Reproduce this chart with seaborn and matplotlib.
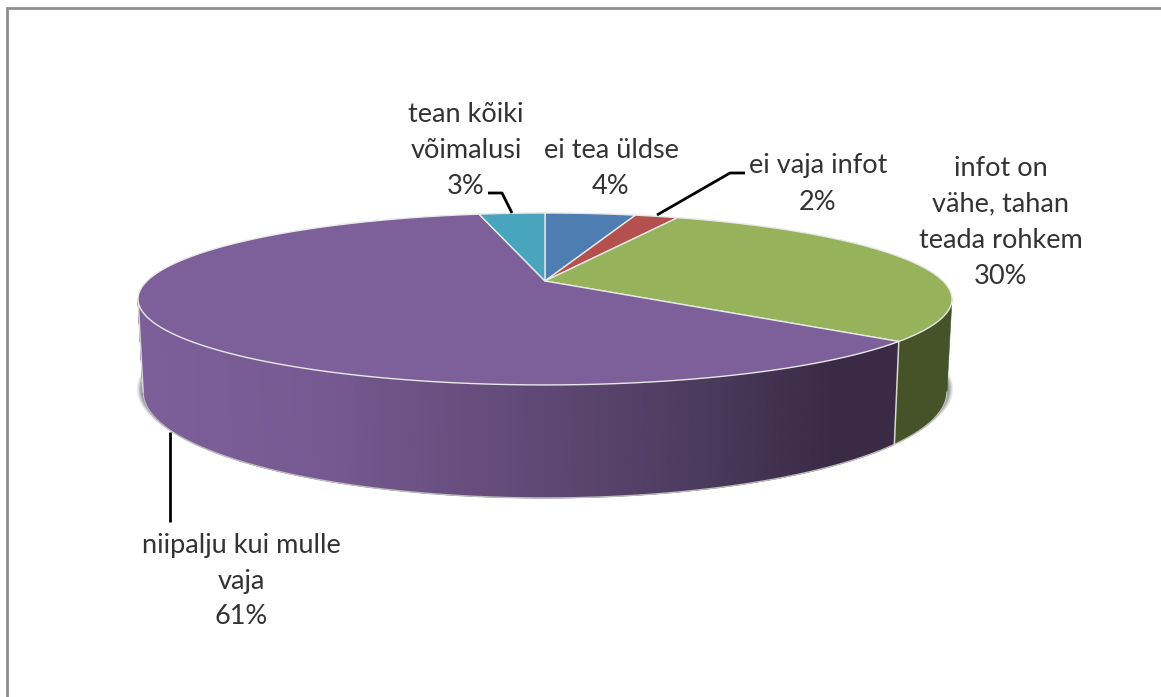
import numpy as np
import matplotlib
matplotlib.use("Agg")
import matplotlib.pyplot as plt
from matplotlib.colors import LinearSegmentedColormap
import seaborn as sns

# --- data (clockwise from 12 o'clock)
names = ["ei tea üldse", "ei vaja infot", "infot on vähe, tahan teada rohkem",
         "niipalju kui mulle vaja", "tean kõiki võimalusi"]
values = [4.4, 2.1, 29.5, 60.8, 3.2]
slice_colors = ["#4e7db2", "#b4504d", "#96b25b", "#7d6099", "#49a5bd"]
label_lines = [["ei tea üldse"], ["ei vaja infot"], ["infot on", "vähe, tahan", "teada rohkem"],
               ["niipalju kui mulle", "vaja"], ["tean kõiki", "võimalusi"]]

sns.set_theme(style="white")
plt.rcParams["font.family"] = ["Lato", "DejaVu Sans"]
palette = sns.color_palette(slice_colors)

# --- view geometry (pixel-like axes units)
W, H = 1161, 697
CX = 545
K = 0.209
TOP = dict(b=398.0, a=82.2, cy=281.0)
BOT = dict(b=393.0, a=101.3, cy=369.9)
TEXT = "#333333"
SEAM = "#d8d8d8"

fig = plt.figure(figsize=(W / 100, H / 100), dpi=100, facecolor="white")
ax = fig.add_axes([0, 0, 1, 1])
ax.set_xlim(0, W)
ax.set_ylim(H, 0)
ax.axis("off")


def project(theta, plane, scale=1.0):
    """Perspective projection of a disc point; theta in degrees clockwise from top."""
    t = np.radians(theta)
    u, v = np.sin(t) * scale, -np.cos(t) * scale
    d = 1 - K * v
    return CX + plane["b"] * u / d, plane["cy"] + plane["a"] * v / d


def arc(t0, t1, plane, n=160):
    return project(np.linspace(t0, t1, n), plane)


edges = np.concatenate([[0], np.cumsum(values)]) / np.sum(values) * 360
t_right = np.degrees(np.arccos(-K))
t_left = 360 - t_right
green_end, purple_end = edges[3], edges[4]

# --- soft shadow beneath the disc
for grow, alpha in zip(np.linspace(1.016, 1.001, 9), np.linspace(0.06, 0.17, 9)):
    plane = dict(b=BOT["b"] * grow, a=BOT["a"] * (1 + (grow - 1) * 0.3), cy=BOT["cy"] - 3)
    sx, sy = arc(t_right - 30, t_left + 30, plane)
    ax.fill(sx, sy, color="#404040", alpha=alpha, lw=0, zorder=1)

# --- side walls
wall_cmap = LinearSegmentedColormap.from_list(
    "wall", [(0.00, "#7c5f99"), (0.22, "#775a92"), (0.50, "#624a78"),
             (0.75, "#4a3a5c"), (0.92, "#3a2a45"), (1.00, "#3a2a45")])
ts = np.linspace(green_end, t_left, 420)
for a0, a1 in zip(ts[:-1], ts[1:]):
    xt, yt = arc(a0, a1, TOP, 2)
    xb, yb = arc(a1, a0, BOT, 2)
    col = wall_cmap(np.clip((xt.mean() - 143) / (895 - 143), 0, 1))
    ax.fill(np.r_[xt, xb], np.r_[yt, yb], color=col, lw=0.6, ec=col, zorder=2)

xt, yt = arc(t_right, green_end, TOP)
xb, yb = arc(green_end, t_right, BOT)
ax.fill(np.r_[xt, xb], np.r_[yt, yb], color="#465227", lw=0.4, ec="#465227", zorder=2)

# wall outlines
xb, yb = arc(t_right, t_left, BOT, 300)
ax.plot(xb, yb, color="#bdbdbd", lw=1.0, zorder=3)
for t in (green_end, t_left):
    x0, y0 = project(t, TOP)
    x1, y1 = project(t, BOT)
    ax.plot([x0, x1], [y0, y1], color=SEAM, lw=1.1, zorder=3)

# --- top surface
x_apex, y_apex = project(0.0, dict(TOP, b=0, a=0))
for t0, t1, col in zip(edges[:-1], edges[1:], palette):
    xr, yr = arc(t0, t1, TOP, 200)
    ax.fill(np.r_[x_apex, xr], np.r_[y_apex, yr], color=col, ec="#e8e8e8", lw=1.0, zorder=4, joinstyle="round")

# --- leader lines
leader = dict(color="black", lw=2.0, zorder=5, solid_capstyle="butt", solid_joinstyle="round")
ax.plot([488, 502, 512], [193, 193, 213], **leader)
ax.plot([745, 730, 657], [173, 173, 215], **leader)
ax.plot([170, 170], [432, 522], **leader)

# --- labels
pct = [f"{round(v)}%" for v in values]
txt = dict(color=TEXT, fontsize=19.5, va="center", ha="center", zorder=6)
for (lines, p, x, ys) in [
    (label_lines[4], pct[4], 466, [115, 151, 186]),
    (label_lines[0], pct[0], 611, [151, 186]),
    (label_lines[1], pct[1], 818, [166, 202]),
    (label_lines[2], pct[2], 1001, [168, 204, 240, 276]),
    (label_lines[3], pct[3], 241, [545, 581, 616]),
]:
    for s, y in zip(lines + [p], ys):
        ax.text(x, y, s, **txt)

# --- chart frame (top and left edge visible)
ax.plot([7, 7, W], [H, 8, 8], color="#8e8e8e", lw=2.0, zorder=7, solid_joinstyle="miter")

fig.savefig("out.png", dpi=100)
